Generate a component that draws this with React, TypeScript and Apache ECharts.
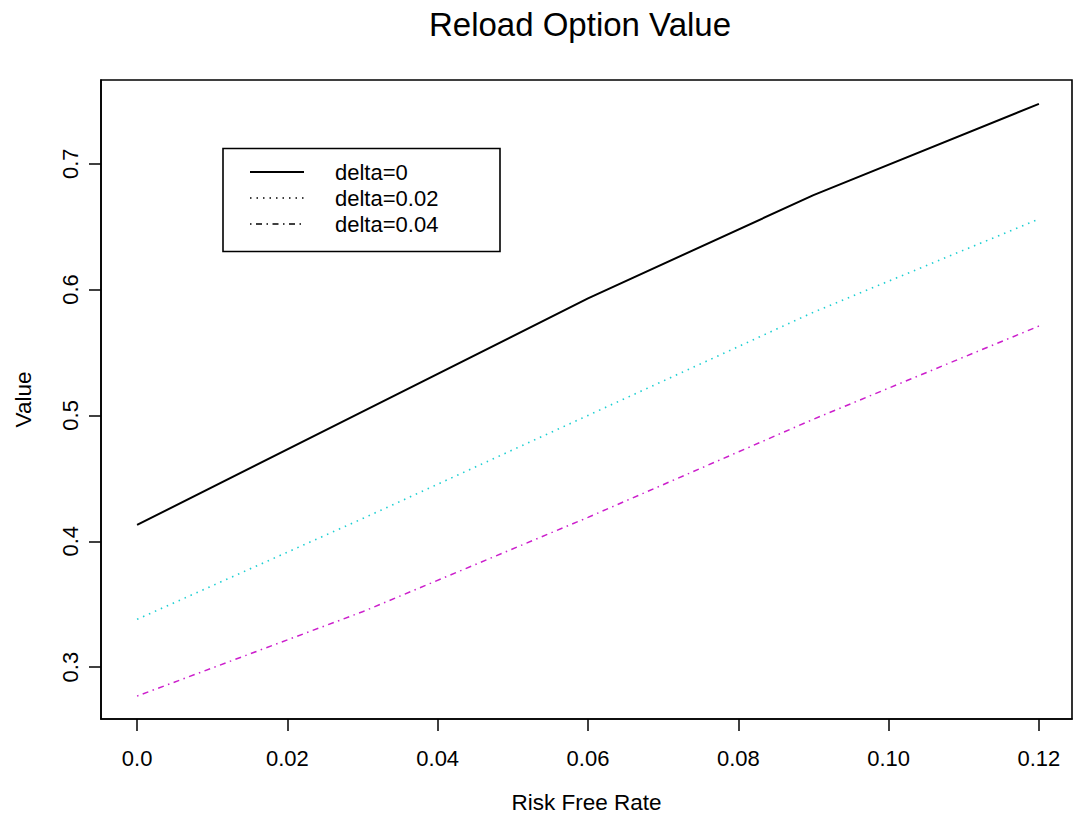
import React, { useEffect, useRef } from "react";
import * as echarts from "echarts";

const rates = [0, 0.03, 0.06, 0.09, 0.12];
const delta0 = [0.413, 0.503, 0.593, 0.675, 0.7475];
const delta002 = [0.338, 0.418, 0.5, 0.582, 0.656];
const delta004 = [0.277, 0.344, 0.419, 0.497, 0.571];
const seriesNames = ["delta=0", "delta=0.02", "delta=0.04"];
const xTicks = [0, 0.02, 0.04, 0.06, 0.08, 0.1, 0.12];
const xTickLabels = ["0.0", "0.02", "0.04", "0.06", "0.08", "0.10", "0.12"];
const yTicks = [0.3, 0.4, 0.5, 0.6, 0.7];
const yTickLabels = ["0.3", "0.4", "0.5", "0.6", "0.7"];

const FONT = "Liberation Sans, Arial, Helvetica, sans-serif";

export default function App() {
  const ref = useRef<HTMLDivElement>(null);
  useEffect(() => {
    if (!ref.current) return;
    const chart = echarts.init(ref.current, undefined, { renderer: "svg" });
    const pairs = (ys: number[]) => rates.map((x, i) => [x, ys[i]]);
    const fmt = (ticks: number[], labels: string[]) => (v: number) => {
      const i = ticks.findIndex((t) => Math.abs(t - v) < 1e-9);
      return i >= 0 ? labels[i] : "";
    };
    const legendRows = [
      { name: seriesNames[0], type: "solid" as any, width: 2 },
      { name: seriesNames[1], type: [1.5, 5] as any, width: 1.5 },
      { name: seriesNames[2], type: [1.5, 4.5, 6, 4.5] as any, width: 1.5 },
    ];
    const axisLine = { show: true, onZero: false, lineStyle: { color: "#000", width: 1.6 } };
    chart.setOption({
      animation: false,
      backgroundColor: "#ffffff",
      title: {
        text: "Reload Option Value",
        left: 580,
        top: 8,
        textAlign: "center",
        padding: 0,
        textStyle: { fontFamily: FONT, fontSize: 33, fontWeight: "normal", color: "#000" },
      },
      grid: {
        left: 101,
        top: 80,
        right: 2,
        bottom: 98,
        show: true,
        borderColor: "#000",
        borderWidth: 1.6,
        backgroundColor: "transparent",
      },
      xAxis: {
        type: "value",
        min: -0.0048,
        max: 0.1244,
        name: "Risk Free Rate",
        nameLocation: "middle",
        nameGap: 72,
        nameTextStyle: { fontFamily: FONT, fontSize: 22.5, color: "#000" },
        splitLine: { show: false },
        axisLine,
        axisTick: {
          show: true,
          length: 12,
          customValues: xTicks,
          lineStyle: { color: "#000", width: 1.5 },
        },
        axisLabel: {
          customValues: xTicks,
          formatter: fmt(xTicks, xTickLabels),
          margin: 28,
          fontFamily: FONT,
          fontSize: 22,
          color: "#000",
        },
      },
      yAxis: {
        type: "value",
        min: 0.2588,
        max: 0.7665,
        name: "Value",
        nameLocation: "middle",
        nameRotate: 90,
        nameGap: 66,
        nameTextStyle: { fontFamily: FONT, fontSize: 22.5, color: "#000" },
        splitLine: { show: false },
        axisLine,
        axisTick: {
          show: true,
          length: 12,
          customValues: yTicks,
          lineStyle: { color: "#000", width: 1.5 },
        },
        axisLabel: {
          customValues: yTicks,
          formatter: fmt(yTicks, yTickLabels),
          rotate: 90,
          margin: 20,
          fontFamily: FONT,
          fontSize: 22,
          color: "#000",
        },
      },
      series: [
        {
          name: seriesNames[0],
          type: "line",
          data: pairs(delta0),
          showSymbol: false,
          lineStyle: { color: "#000000", width: 2, type: "solid" },
        },
        {
          name: seriesNames[1],
          type: "line",
          data: pairs(delta002),
          showSymbol: false,
          lineStyle: { color: "#1ccfd2", width: 1.6, type: [1.5, 5] },
        },
        {
          name: seriesNames[2],
          type: "line",
          data: pairs(delta004),
          showSymbol: false,
          lineStyle: { color: "#cc1fcc", width: 1.5, type: [1.5, 4.5, 6, 4.5] },
        },
      ],
      graphic: [
        {
          type: "rect",
          shape: { x: 223, y: 148.5, width: 277, height: 103 },
          style: { fill: "#fff", stroke: "#000", lineWidth: 1.6 },
          z: 100,
        },
        ...legendRows.flatMap((r, i) => [
          {
            type: "line",
            shape: { x1: 250, y1: 172 + i * 26, x2: 304, y2: 172 + i * 26 },
            style: { stroke: "#000", lineWidth: r.width, lineDash: r.type === "solid" ? null : r.type },
            z: 101,
          },
          {
            type: "text",
            x: 335,
            y: 172 + i * 26,
            style: {
              text: r.name,
              fontFamily: FONT,
              fontSize: 22,
              fill: "#000",
              verticalAlign: "middle",
              align: "left",
            },
            z: 101,
          },
        ]),
      ],
    });
    return () => chart.dispose();
  }, []);
  return (
    <div
      ref={ref}
      style={{ position: "absolute", left: 0, top: 0, width: 1074, height: 819 }}
    />
  );
}
